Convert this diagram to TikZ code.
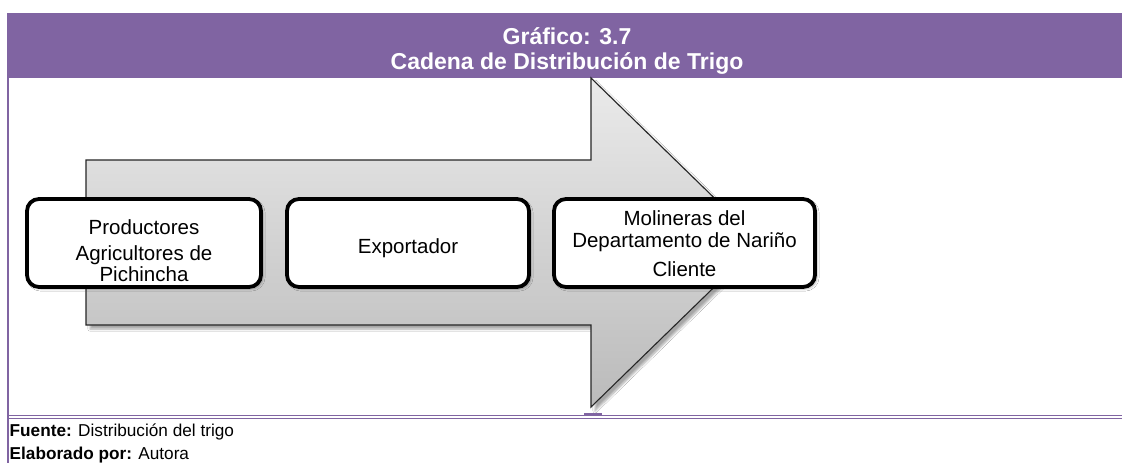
\documentclass[tikz,border=0pt]{standalone}
\usepackage{fontspec}
\setmainfont{Liberation Sans}
\usetikzlibrary{shadows.blur}
\definecolor{hdrpurple}{HTML}{8064A2}
\begin{document}
\begin{tikzpicture}[x=1pt,y=1pt,
  chainbox/.style={draw=black, line width=3.8pt, rounded corners=12pt, fill=white,
    minimum height=88pt, inner sep=0pt,
    blur shadow={shadow xshift=2pt, shadow yshift=-2pt, shadow blur steps=4, shadow opacity=30}},
  boxtext/.style={align=center, inner sep=0pt, font=\fontsize{20.5}{21.5}\selectfont},
  bigarrow/.style={draw=black!85, line width=1.1pt, top color=black!8, bottom color=black!27,
    blur shadow={shadow xshift=4pt, shadow yshift=-4pt, shadow blur steps=6, shadow opacity=35}},
  hdrtext/.style={text=white, font=\bfseries\fontsize{23}{24.5}\selectfont, align=center, inner sep=0pt},
  foot/.style={anchor=west, font=\fontsize{17.2}{19}\selectfont, inner sep=0pt}
]
\useasboundingbox (0,0) rectangle (1122,-463);
\fill[white] (0,0) rectangle (1122,-463);
% header band
\fill[hdrpurple] (7,-13) rectangle (1122,-78);
\node[hdrtext] (title) at (567,-51) {Gráfico: 3.7\\Cadena de Distribución de Trigo};
% left border
\fill[hdrpurple] (7,-78) rectangle (9.3,-463);
% double bottom rule
\fill[hdrpurple] (7,-414.8) rectangle (1122,-416.3);
\fill[hdrpurple] (7,-417.8) rectangle (1122,-419.3);
\fill[hdrpurple] (584,-413.3) rectangle (602,-415);
% arrow
\coordinate (atip) at (760,-242.5);
\path[bigarrow] (86,-160) -- (591,-160) -- (591,-78) -- (atip) -- (591,-407) -- (591,-325) -- (86,-325) -- cycle;
% boxes
\node[chainbox, minimum width=234pt] (prod) at (144,-243) {};
\node[chainbox, minimum width=242pt] (expo) at (408,-243) {};
\node[chainbox, minimum width=261pt] (moli) at (684.5,-243) {};
\node[boxtext] (prodtxt) at ([yshift=-8pt]prod.center) {Productores\\[4pt]Agricultores de\\Pichincha};
\node[boxtext] (expotxt) at ([yshift=-5pt]expo.center) {Exportador};
\node[boxtext] (molitxt) at ([yshift=-1pt]moli.center) {Molineras del\\Departamento de Nariño\\[8pt]Cliente};
% footer
\node[foot] (fuente) at (9.5,-432) {\textbf{Fuente:} Distribución del trigo};
\node[foot] (elab) at (9.5,-455) {\textbf{Elaborado por:} Autora};
\end{tikzpicture}
\end{document}
